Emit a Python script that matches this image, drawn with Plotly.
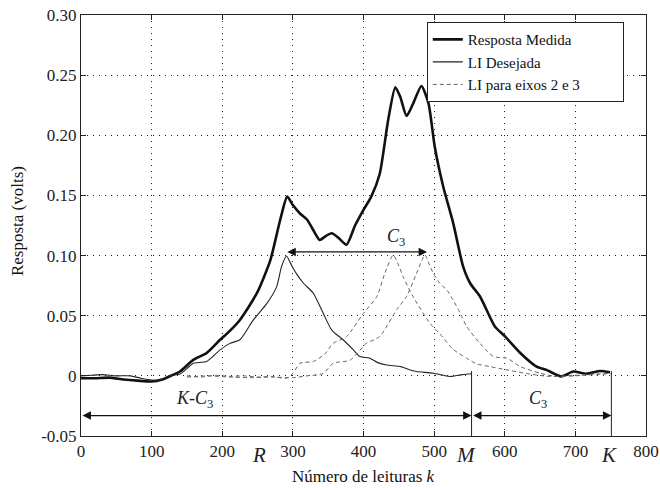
import plotly.graph_objects as go

# ---- data ----
medida_x = [0, 20, 40, 60, 80, 100, 115, 125, 140, 159, 178, 197, 210, 225, 249, 268, 282, 292,
            300, 310, 320, 329, 338, 346, 355, 364, 376, 388, 400, 411, 423, 435, 445, 452, 461,
            470, 482, 492, 501, 513, 527, 541, 551, 565, 586, 600, 622, 645, 659, 680, 697, 716,
            735, 749]
medida_y = [-0.002, -0.002, -0.0015, -0.003, -0.004, -0.0047, -0.003, -0.0005, 0.0036, 0.0133,
            0.019, 0.030, 0.037, 0.0465, 0.0687, 0.096, 0.1296, 0.149, 0.142, 0.135, 0.130, 0.121,
            0.113, 0.116, 0.1185, 0.115, 0.109, 0.125, 0.138, 0.149, 0.168, 0.213, 0.240, 0.232,
            0.216, 0.226, 0.241, 0.2265, 0.190, 0.157, 0.127, 0.091, 0.077, 0.066, 0.041, 0.033,
            0.019, 0.0077, 0.005, -0.0005, 0.0036, 0.0017, 0.004, 0.003]

desejada_x = [0, 15, 30, 50, 70, 85, 100, 112, 125, 140, 150, 159, 178, 197, 211, 225, 244, 263,
              277, 284, 291, 298, 305, 315, 329, 343, 355, 371, 385, 395, 409, 420, 433, 453, 465,
              475, 499, 522, 540, 553]
desejada_y = [0.0, 0.0005, 0.001, 0.0, 0.0, -0.002, -0.0035, -0.0035, 0.0, 0.0015, 0.006, 0.0105,
              0.012, 0.0216, 0.027, 0.030, 0.0465, 0.060, 0.074, 0.091, 0.0997, 0.092, 0.085, 0.077,
              0.0687, 0.052, 0.038, 0.030, 0.022, 0.016, 0.0147, 0.011, 0.009, 0.0077, 0.005,
              0.0036, 0.0022, -0.0005, 0.001, 0.0017]

eixo2_x = [150, 170, 190, 210, 230, 250, 270, 290, 300, 310, 329, 345, 357, 376, 400, 419, 430,
           442, 449, 456, 470, 494, 508, 527, 546, 560, 579, 603, 630, 664, 700, 730, 750]
eixo2_y = [0.0, -0.001, 0.0005, -0.0005, 0.0, -0.001, -0.0005, -0.002, 0.002, 0.0105, 0.012,
           0.018, 0.027, 0.0327, 0.052, 0.066, 0.085, 0.1005, 0.093, 0.0825, 0.066, 0.0437, 0.035,
           0.022, 0.0147, 0.010, 0.0077, 0.005, 0.002, -0.0005, 0.0005, 0.001, 0.002]

eixo3_x = [150, 180, 210, 240, 270, 300, 320, 343, 357, 381, 404, 423, 447, 461, 475, 487, 493,
           499, 508, 518, 527, 537, 546, 565, 584, 603, 622, 650, 673, 700, 725, 750]
eixo3_y = [-0.001, 0.0, -0.001, -0.0015, -0.001, -0.0015, 0.0, 0.002, 0.0105, 0.013, 0.027,
           0.0327, 0.055, 0.066, 0.085, 0.1005, 0.093, 0.085, 0.077, 0.0714, 0.063, 0.052, 0.041,
           0.027, 0.016, 0.0147, 0.0077, 0.0022, -0.0005, 0.0, 0.0015, 0.002]

# markers of the construction (R, M, K, C3)
R = 290
C3 = 200
M = 553
K = 751
y_c3_arrow = 0.103
y_bottom_arrow = -0.033
y_mk_top = 0.004

x_ticks = [0, 100, 200, 300, 400, 500, 600, 700, 800]
y_ticks = [-0.05, 0, 0.05, 0.10, 0.15, 0.20, 0.25, 0.30]
y_ticktext = ["-0.05", "0", "0.05", "0.10", "0.15", "0.20", "0.25", "0.30"]

FONT = "Liberation Serif"
PAD = "\u00a0" * 10  # right padding inside the legend box

fig = go.Figure()
fig.add_trace(go.Scatter(x=medida_x, y=medida_y, mode="lines", name="Resposta Medida",
                         line=dict(color="#111111", width=2.6, shape="spline", smoothing=0.6)))
fig.add_trace(go.Scatter(x=desejada_x, y=desejada_y, mode="lines", name="LI Desejada",
                         line=dict(color="#222222", width=1.1, shape="spline", smoothing=0.6)))
fig.add_trace(go.Scatter(x=eixo2_x, y=eixo2_y, mode="lines", name="LI para eixos 2 e 3" + PAD,
                         line=dict(color="#666666", width=1, dash="4px,3px", shape="spline",
                                   smoothing=0.6)))
fig.add_trace(go.Scatter(x=eixo3_x, y=eixo3_y, mode="lines", name="LI para eixos 2 e 3",
                         showlegend=False,
                         line=dict(color="#666666", width=1, dash="4px,3px", shape="spline",
                                   smoothing=0.6)))

# vertical markers at M and K
for xv in (M, K):
    fig.add_shape(type="line", xref="x", yref="y", x0=xv, x1=xv, y0=y_mk_top, y1=-0.05,
                  line=dict(color="#222222", width=1))

arrow_common = dict(showarrow=True, arrowhead=2, arrowsize=1.3, arrowwidth=1.3,
                    arrowcolor="#111111", arrowside="end+start", text="",
                    axref="x", ayref="y", xref="x", yref="y")
fig.add_annotation(x=R + C3, y=y_c3_arrow, ax=R, ay=y_c3_arrow, **arrow_common)
fig.add_annotation(x=M, y=y_bottom_arrow, ax=0, ay=y_bottom_arrow, **arrow_common)
fig.add_annotation(x=K, y=y_bottom_arrow, ax=M, ay=y_bottom_arrow, **arrow_common)

lab_font = dict(family=FONT, size=18, color="#222222")
fig.add_annotation(x=R + C3 * 0.78, y=y_c3_arrow + 0.012, text="<i>C</i><sub>3</sub>",
                   showarrow=False, font=lab_font)
fig.add_annotation(x=160, y=y_bottom_arrow + 0.013, text="<i>K</i>-<i>C</i><sub>3</sub>",
                   showarrow=False, font=lab_font)
fig.add_annotation(x=(M + K) / 2 - 5, y=y_bottom_arrow + 0.013, text="<i>C</i><sub>3</sub>",
                   showarrow=False, font=lab_font)

big_font = dict(family=FONT, size=21, color="#222222")
for xv, txt, shift in ((R, "R", -27), (M, "M", -6), (K, "K", -2)):
    fig.add_annotation(x=xv, y=-0.045, xref="x", yref="paper", text=f"<i>{txt}</i>",
                       showarrow=False, font=big_font, xshift=shift, yanchor="middle")

# axis titles
fig.add_annotation(x=0.5, y=-0.097, xref="paper", yref="paper",
                   text="Número de leituras <i>k</i>", showarrow=False,
                   font=dict(family=FONT, size=17, color="#111111"), yanchor="middle")
fig.add_annotation(x=-0.112, y=0.51, xref="paper", yref="paper",
                   text="Resposta (volts)", showarrow=False, textangle=-90,
                   font=dict(family=FONT, size=17, color="#111111"), xanchor="center")

fig.update_layout(
    width=660, height=488,
    margin=dict(l=81, r=14, t=15, b=52),
    paper_bgcolor="white", plot_bgcolor="white",
    font=dict(family=FONT, size=16, color="#222222"),
    showlegend=True,
    legend=dict(x=0.612, y=0.983, xanchor="left", yanchor="top",
                bgcolor="white", bordercolor="#222222", borderwidth=1,
                font=dict(family=FONT, size=15, color="#111111"),
                tracegroupgap=0, itemwidth=30),
)
fig.update_xaxes(range=[0, 800], tickvals=x_ticks, showgrid=True, gridcolor="#222222",
                 griddash="1px,5px", gridwidth=1, showline=True, linecolor="#222222",
                 linewidth=1, mirror="ticks", ticks="inside", ticklen=5, tickcolor="#222222",
                 zeroline=False, tickfont=dict(family=FONT, size=17, color="#222222"),
                 automargin=False)
fig.update_yaxes(range=[-0.05, 0.30], tickvals=y_ticks, ticktext=y_ticktext, showgrid=True,
                 gridcolor="#222222", griddash="1px,5px", gridwidth=1, showline=True,
                 linecolor="#222222", linewidth=1, mirror="ticks", ticks="inside", ticklen=5,
                 tickcolor="#222222", zeroline=False,
                 tickfont=dict(family=FONT, size=17, color="#222222"), automargin=False)

fig.write_html("out.html")
